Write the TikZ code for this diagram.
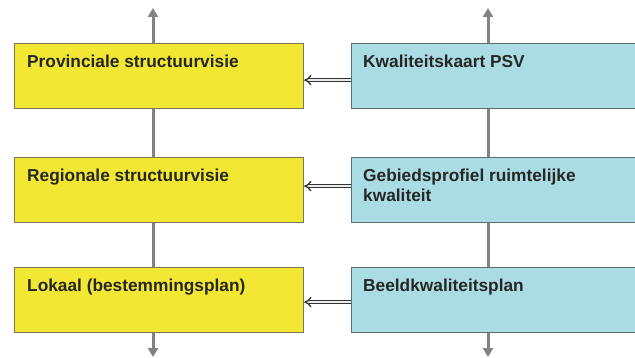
\documentclass[tikz,border=0pt]{standalone}
\usepackage{fontspec}
\setmainfont{Liberation Sans}
\usepackage{xcolor}
\usepackage{tikz}
\usetikzlibrary{arrows.meta,positioning}
\definecolor{boxyellow}{HTML}{F2E834}
\definecolor{boxblue}{HTML}{AADCE3}
\definecolor{yedge}{HTML}{7A7552}
\definecolor{bedge}{HTML}{5C6E76}
\definecolor{linegray}{HTML}{828282}

\begin{document}
\begin{tikzpicture}[x=1pt, y=-1pt,
  ybox/.style={draw=yedge, line width=1.2pt, fill=boxyellow},
  bbox/.style={draw=bedge, line width=1.2pt, fill=boxblue},
  lbl/.style={inner sep=0pt, font=\fontsize{17.3}{20}\selectfont\bfseries, text=black!85, align=left},
  vline/.style={draw=linegray, line width=3pt, {Triangle[width=10pt,length=9pt]}-{Triangle[width=10pt,length=9pt]}},
  dbl/.style={draw=black!80, double=white!92!black, double distance=2.2pt, line width=1.3pt, -{Implies[scale=1.3]}}]
  \useasboundingbox (0,0) rectangle (635,358);
  \clip (0,0) rectangle (635,358);
  % Vertical lines
  \coordinate (ltop) at (153,8);
  \coordinate (lbot) at (153,357);
  \coordinate (rtop) at (488,8);
  \coordinate (rbot) at (488,357);
  \draw[vline] (ltop) -- (lbot);
  \draw[vline] (rtop) -- (rbot);
  % Left column
  \node[ybox, anchor=north west, minimum width=289pt, minimum height=65pt] (prov) at (14,43) {};
  \node[ybox, anchor=north west, minimum width=289pt, minimum height=65pt] (reg) at (14,157) {};
  \node[ybox, anchor=north west, minimum width=289pt, minimum height=65pt] (lok) at (14,267) {};
  % Right column
  \node[bbox, anchor=north west, minimum width=300pt, minimum height=65pt] (kwal) at (351,43) {};
  \node[bbox, anchor=north west, minimum width=300pt, minimum height=65pt] (gebied) at (351,157) {};
  \node[bbox, anchor=north west, minimum width=300pt, minimum height=65pt] (beeld) at (351,267) {};
  % Texts
  \node[lbl, anchor=base west] (provt) at ([xshift=13pt, yshift=-25pt]prov.north west) {Provinciale structuurvisie};
  \node[lbl, anchor=base west] (regt) at ([xshift=13pt, yshift=-25pt]reg.north west) {Regionale structuurvisie};
  \node[lbl, anchor=base west] (lokt) at ([xshift=13pt, yshift=-25pt]lok.north west) {Lokaal (bestemmingsplan)};
  \node[lbl, anchor=base west] (kwalt) at ([xshift=12pt, yshift=-25pt]kwal.north west) {Kwaliteitskaart PSV};
  \node[lbl, anchor=base west] (gebiedt) at ([xshift=12pt, yshift=-45pt]gebied.north west) {Gebiedsprofiel ruimtelijke\\kwaliteit};
  \node[lbl, anchor=base west] (beeldt) at ([xshift=12pt, yshift=-25pt]beeld.north west) {Beeldkwaliteitsplan};
  % Double arrows
  \draw[dbl] ([yshift=-4pt]kwal.west) -- ([yshift=-4pt]prov.east);
  \draw[dbl] ([yshift=4pt]gebied.west) -- ([yshift=4pt]reg.east);
  \draw[dbl] ([yshift=-2pt]beeld.west) -- ([yshift=-2pt]lok.east);
\end{tikzpicture}
\end{document}
